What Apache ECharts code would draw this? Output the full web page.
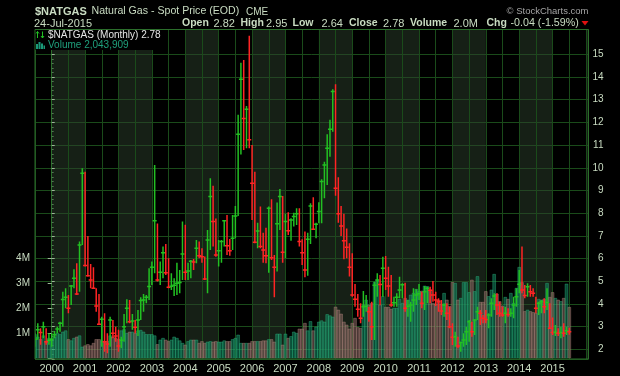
<!DOCTYPE html>
<html><head><meta charset="utf-8">
<script src="https://cdn.jsdelivr.net/npm/echarts@6/dist/echarts.min.js"></script>
<style>html,body{margin:0;padding:0;background:#000;}#c{width:620px;height:376px;}</style>
</head><body><div id="c"></div>
<script>
// first month of data: July 1999 (monthly bars through July 2015)
const firstYear = 1999, firstMonth = 7;
const highs = [
  2.71,3.15,2.93,3.22,2.93,2.71,
  2.71,2.81,3.00,3.22,4.54,4.69,4.40,4.84,5.53,5.79,6.75,9.98,
  9.83,7.00,5.76,5.62,4.69,4.44,3.44,3.59,2.71,3.44,3.30,3.00,
  2.86,2.56,3.56,4.21,4.18,3.56,3.30,3.74,4.30,4.44,4.40,5.57,
  5.87,10.12,7.55,5.87,6.53,6.64,6.01,5.35,5.13,5.82,5.50,7.63,
  7.49,5.82,5.94,5.98,6.82,6.75,6.45,6.09,7.26,9.54,9.21,7.76,
  6.82,6.82,7.70,7.92,6.86,7.92,8.32,12.33,14.63,14.75,12.72,15.82,
  11.00,9.83,7.58,8.29,7.14,7.36,8.29,8.61,6.16,8.47,9.07,8.76,
  7.97,8.04,7.78,8.02,8.22,8.22,6.85,7.19,7.14,8.44,8.70,7.58,
  8.48,9.49,10.27,11.48,12.11,13.46,13.68,9.58,8.32,7.97,7.33,6.67,
  6.23,4.88,4.44,4.03,4.57,4.40,3.88,4.10,4.98,5.35,5.28,6.08,
  6.11,5.64,5.28,4.32,4.47,5.20,4.91,4.94,4.18,4.10,4.69,4.65,
  4.88,4.54,4.79,4.76,4.76,5.01,4.54,4.25,4.18,4.03,4.03,3.88,
  3.15,2.78,2.56,2.34,2.71,3.00,3.29,3.22,3.32,3.88,3.73,3.51,
  3.73,3.59,4.25,4.47,4.47,4.10,3.88,3.88,3.81,3.81,4.32,4.69,
  5.50,6.53,4.84,4.91,4.84,4.69,4.32,4.10,4.18,4.25,4.69,4.03,
  3.40,3.07,2.93,3.00,3.15,3.00,2.95
];
const lows = [
  2.12,2.42,2.20,2.49,2.20,2.20,
  2.12,2.49,2.71,2.78,3.00,3.81,3.59,3.96,4.69,4.40,4.54,6.60,
  5.65,5.21,4.69,4.69,3.66,3.08,2.12,1.90,1.83,2.12,2.49,2.34,
  1.90,2.05,2.34,3.15,3.15,2.86,2.71,2.59,3.30,3.66,4.03,4.18,
  4.84,5.35,4.99,4.84,5.13,5.28,4.69,4.62,4.35,4.40,4.47,5.06,
  5.06,5.06,5.13,5.50,5.79,6.01,5.82,5.06,4.47,6.38,6.53,6.08,
  5.65,5.82,6.53,6.16,6.12,6.38,6.89,7.88,10.58,10.78,10.86,10.86,
  7.70,6.67,6.45,6.45,5.82,5.79,5.38,5.94,4.30,5.43,7.26,5.82,
  6.01,7.04,6.79,7.41,7.48,6.53,5.72,5.18,5.24,6.64,7.26,6.89,
  7.56,7.56,8.66,9.24,10.49,11.59,8.77,7.58,7.00,5.97,6.01,5.21,
  4.32,3.88,3.44,3.15,3.44,3.66,3.22,2.41,2.41,4.32,3.96,4.32,
  4.62,4.32,3.88,3.88,3.88,4.25,4.25,3.66,3.44,3.22,3.66,3.96,
  4.18,3.81,3.73,4.03,4.03,4.10,3.91,3.66,3.51,3.44,3.29,2.93,
  2.19,2.12,2.05,1.90,2.12,2.19,2.34,2.56,2.63,3.29,3.07,3.15,
  3.15,2.93,3.44,3.73,3.51,3.44,3.44,3.15,3.44,3.44,3.37,3.88,
  4.47,4.47,4.25,4.32,4.32,4.32,3.59,3.51,3.59,3.59,3.73,2.93,
  2.63,2.59,2.59,2.49,2.56,2.63,2.64
];
const closes = [
  2.45,2.86,2.74,3.00,2.34,2.40,
  2.45,2.65,2.90,3.15,4.20,4.30,3.81,4.79,5.13,4.44,6.60,9.76,
  5.69,5.24,5.06,4.69,3.91,3.11,3.33,2.34,2.24,3.30,2.71,2.59,
  2.15,2.40,3.00,3.81,3.22,3.25,2.97,3.30,4.15,4.18,4.30,4.77,
  5.62,7.67,5.06,5.40,6.26,5.38,4.74,4.78,4.82,4.91,4.95,6.20,
  5.40,5.45,5.88,5.85,6.45,6.12,6.08,5.10,6.82,8.73,7.63,6.16,
  6.35,6.75,7.67,6.57,6.35,6.89,7.88,11.48,13.90,12.17,12.58,11.23,
  9.32,6.72,7.22,6.53,6.38,6.12,8.22,6.04,5.62,7.53,8.73,6.28,
  7.63,7.23,7.70,7.85,7.97,6.75,6.26,5.50,6.85,8.32,7.29,7.51,
  8.07,9.39,10.12,10.86,11.70,13.36,9.10,7.97,7.44,6.78,6.50,5.62,
  4.40,4.21,3.77,3.37,3.88,3.90,3.66,3.00,4.83,5.06,4.86,5.57,
  5.13,4.79,3.95,4.05,4.30,4.62,4.85,3.81,3.90,3.95,4.18,4.40,
  4.45,4.03,4.54,4.69,4.60,4.40,4.18,4.10,3.69,3.96,3.59,3.00,
  2.53,2.56,2.15,2.30,2.41,2.78,3.22,2.78,3.29,3.66,3.59,3.37,
  3.32,3.51,4.03,4.35,3.96,3.59,3.51,3.59,3.54,3.59,3.96,4.32,
  4.87,4.62,4.37,4.76,4.54,4.47,3.81,4.03,4.10,3.88,4.07,2.93,
  2.74,2.76,2.71,2.74,2.71,2.82,2.78
];
// monthly volume, millions
const volumes = [
  0.95,0.85,0.75,0.90,0.65,0.80,
  0.73,0.85,1.00,0.95,1.05,1.10,0.75,0.70,0.80,0.85,0.90,0.45,
  0.50,0.55,0.50,0.60,0.75,0.75,0.70,0.65,0.68,0.90,0.85,0.80,
  0.75,1.10,1.15,1.00,1.05,1.05,1.00,1.10,1.12,1.05,0.95,0.95,
  0.95,0.90,0.55,0.73,0.80,0.73,0.67,0.73,0.85,0.80,0.70,0.60,
  0.53,0.67,0.73,0.73,0.73,0.60,0.67,0.60,0.65,0.67,0.65,0.67,
  0.65,0.65,0.70,0.67,0.67,0.75,0.80,0.93,0.60,0.60,0.60,0.60,
  0.67,0.67,0.67,0.67,0.70,0.70,0.75,0.75,0.65,0.97,0.97,0.53,
  0.97,0.80,0.87,1.05,1.00,1.17,1.17,1.40,1.10,1.47,1.10,1.25,
  1.45,1.50,1.45,1.75,1.70,1.65,2.05,1.93,1.77,1.45,1.33,1.17,
  1.40,1.60,1.23,1.20,2.13,2.33,2.13,2.20,3.03,3.13,2.13,2.47,
  2.04,2.04,1.96,2.00,2.00,2.36,2.20,2.40,2.33,2.53,2.60,2.76,
  2.67,2.69,2.89,2.87,2.73,2.20,2.17,2.33,2.17,2.60,2.33,2.07,
  3.04,3.00,2.33,2.40,3.03,3.03,2.63,3.13,2.67,3.27,2.24,2.24,
  2.67,2.47,2.73,3.36,2.57,2.27,2.09,2.44,2.36,2.60,2.20,2.80,
  3.64,3.03,1.87,1.93,1.87,1.83,1.80,2.36,2.33,2.36,3.00,2.44,
  2.63,2.40,2.33,2.27,2.40,2.97,2.04
];
const yearLabels = ['2000','2001','2002','2003','2004','2005','2006','2007','2008','2009','2010','2011','2012','2013','2014','2015'];
const priceTicks = [2,3,4,5,6,7,8,9,10,11,12,13,14,15];
const volumeTicks = ['1M','2M','3M','4M'];

// month index relative to Jan 2000
const baseOffset = (firstYear - 2000) * 12 + (firstMonth - 1);
const priceData = [], volData = [];
for (let i = 0; i < closes.length; i++) {
  const m = baseOffset + i;
  const up = i === 0 ? 1 : (closes[i] > closes[i - 1] ? 1 : 0);
  priceData.push([m, highs[i], lows[i], closes[i], up]);
  volData.push([m, volumes[i], up]);
}

const UP = '#22c022', DOWN = '#ff2424';
const GRIDC = '#1a4b1a', BORDER = '#2b6e2b', PALE = '#c9dcc2';
const FONT = '"Liberation Sans", Arial, sans-serif';
// horizontal grid colours: ticks run 1.577, 2, 3, ... 16, 16.09 - the 16 line is left out
const hLineColors = [];
for (let k = 0; k < 17; k++) hLineColors.push(k === 15 ? 'rgba(0,0,0,0)' : GRIDC);

const chart = echarts.init(document.getElementById('c'), null, {renderer: 'canvas', width: 620, height: 376});

function txt(text, x, y, size, color, weight, align) {
  return {type: 'text', silent: true, z: 100, style: {text: text, x: x, y: y, fill: color,
    font: (weight || 'normal') + ' ' + size + 'px ' + FONT, textAlign: align || 'left', textVerticalAlign: 'middle'}};
}

const graphics = [
  {type: 'rect', silent: true, z: 50, shape: {x: 35.5, y: 30, width: 130, height: 20}, style: {fill: '#000'}},
  txt('$NATGAS', 35, 11.5, 11, PALE, 'bold'),
  txt('Natural Gas - Spot Price (EOD)', 91.5, 11.5, 10.6, PALE),
  txt('CME', 246, 12, 10, PALE),
  txt('24-Jul-2015', 34, 23.5, 11, PALE),
  txt('Open', 182, 23.5, 10.5, PALE, 'bold'), txt('2.82', 213.5, 23.5, 11, PALE),
  txt('High', 240.5, 23.5, 10.5, PALE, 'bold'), txt('2.95', 266, 23.5, 11, PALE),
  txt('Low', 292.5, 23.5, 10.5, PALE, 'bold'), txt('2.64', 321.5, 23.5, 11, PALE),
  txt('Close', 349, 23.5, 10.5, PALE, 'bold'), txt('2.78', 383, 23.5, 11, PALE),
  txt('Volume', 410, 23.5, 10.5, PALE, 'bold'), txt('2.0M', 453.5, 23.5, 11, PALE),
  txt('Chg', 486.5, 23.5, 10.5, PALE, 'bold'), txt('-0.04 (-1.59%)', 510.5, 23.5, 10.7, PALE),
  {type: 'polygon', silent: true, z: 100, shape: {points: [[581.5, 21], [588.5, 21], [585, 25.5]]}, style: {fill: '#e01010'}},
  txt('\u00a9 StockCharts.com', 588.5, 11.5, 9.5, '#a4a4a4', 'normal', 'right'),
  txt('$NATGAS (Monthly) 2.78', 48, 35, 10, '#e6e6e6'),
  txt('Volume 2,043,909', 48, 45.5, 10, '#1fa07c'),
  {type: 'polyline', silent: true, z: 100, shape: {points: [[37.5, 38], [37.5, 31.5]]}, style: {stroke: UP, lineWidth: 1, fill: null}},
  {type: 'polyline', silent: true, z: 100, shape: {points: [[36, 33.5], [37.5, 31.5], [39, 33.5]]}, style: {stroke: UP, lineWidth: 1, fill: null}},
  {type: 'polyline', silent: true, z: 100, shape: {points: [[42.5, 31.5], [42.5, 38]]}, style: {stroke: UP, lineWidth: 1, fill: null}},
  {type: 'polyline', silent: true, z: 100, shape: {points: [[41, 36], [42.5, 38], [44, 36]]}, style: {stroke: UP, lineWidth: 1, fill: null}},
  {type: 'rect', silent: true, z: 100, shape: {x: 36, y: 44, width: 2, height: 5}, style: {fill: '#1a9a78'}},
  {type: 'rect', silent: true, z: 100, shape: {x: 38.5, y: 42, width: 2, height: 7}, style: {fill: '#1a9a78'}},
  {type: 'rect', silent: true, z: 100, shape: {x: 41, y: 43.5, width: 2, height: 5.5}, style: {fill: '#1a9a78'}},
  {type: 'rect', silent: true, z: 100, shape: {x: 43.5, y: 45.5, width: 1.5, height: 3.5}, style: {fill: '#1a9a78'}},
  // plot frame
  {type: 'rect', silent: true, z: 40, shape: {x: 35, y: 29.5, width: 553.5, height: 329.5}, style: {fill: null, stroke: BORDER, lineWidth: 1}}
];

const SHADE = 'rgba(44,64,44,0.5)';
const option = {
  backgroundColor: '#000',
  animation: false,
  textStyle: {fontFamily: FONT},
  grid: [
    {left: 35, right: 31.5, top: 29.5, bottom: 17, show: false},
    {left: 35, right: 31.5, top: 258.3, bottom: 17.7, show: false}
  ],
  xAxis: [
    {type: 'value', gridIndex: 0, min: -6, max: 192.9, interval: 6,
      axisLine: {show: false}, axisTick: {show: false},
      splitLine: {show: true, lineStyle: {color: GRIDC, width: 1, opacity: 1}},
      splitArea: {show: true, areaStyle: {color: ['rgba(0,0,0,0)', SHADE, SHADE, 'rgba(0,0,0,0)']}},
      axisLabel: {color: PALE, fontSize: 11, margin: 4, fontFamily: FONT,
        formatter: function (v) { if (v >= 0 && v % 12 === 0) { const k = v / 12; return yearLabels[k] || ''; } return ''; }}},
    {type: 'value', gridIndex: 1, min: -6, max: 192.9, interval: 6, show: false}
  ],
  yAxis: [
    {type: 'value', gridIndex: 0, position: 'right', min: 1.577, max: 16.09, splitNumber: 14, minInterval: 1, maxInterval: 1,
      axisLine: {show: true, lineStyle: {color: BORDER}},
      axisTick: {show: true, length: 3, lineStyle: {color: '#9fb89a'}},
      minorTick: {show: true, splitNumber: 5, length: 2, lineStyle: {color: '#4f7a4f'}},
      splitLine: {show: true, lineStyle: {color: hLineColors, width: 1, opacity: 1}},
      axisLabel: {color: PALE, fontSize: 10, margin: 15, align: 'right', fontFamily: FONT,
        formatter: function (v) { return priceTicks.indexOf(v) >= 0 ? String(v) : ''; }}},
    {type: 'value', gridIndex: 1, position: 'left', min: 0, max: 4, interval: 1,
      axisLine: {show: false},
      axisTick: {show: true, length: 4, lineStyle: {color: '#9fb89a'}},
      splitLine: {show: false},
      axisLabel: {color: PALE, fontSize: 10, margin: 5, fontFamily: FONT,
        formatter: function (v) { return v >= 1 ? volumeTicks[v - 1] : ''; }}}
  ],
  series: [
    {type: 'custom', name: 'Volume', xAxisIndex: 1, yAxisIndex: 1, z: 1, clip: true,
      data: volData, encode: {x: 0, y: 1},
      renderItem: function (params, api) {
        const x = api.value(0), v = api.value(1), up = api.value(2);
        const p0 = api.coord([x - 0.5, v]);
        const p1 = api.coord([x + 0.5, 0]);
        return {type: 'rect', shape: {x: p0[0], y: p0[1], width: p1[0] - p0[0], height: p1[1] - p0[1]},
          style: {fill: up ? 'rgba(18,150,105,0.5)' : 'rgba(150,112,106,0.5)',
                  stroke: up ? 'rgba(45,175,125,0.7)' : 'rgba(170,130,122,0.7)', lineWidth: 0.6}};
      }},
    {type: 'custom', name: 'Price', xAxisIndex: 0, yAxisIndex: 0, z: 3, clip: true,
      data: priceData, encode: {x: 0, y: [1, 2, 3]},
      renderItem: function (params, api) {
        const x = api.value(0);
        const pH = api.coord([x, api.value(1)]);
        const pL = api.coord([x, api.value(2)]);
        const pC = api.coord([x, api.value(3)]);
        const col = api.value(4) ? UP : DOWN;
        return {type: 'group', children: [
          {type: 'line', shape: {x1: pH[0], y1: pH[1], x2: pL[0], y2: pL[1]}, style: {stroke: col, lineWidth: 1.5}},
          {type: 'line', shape: {x1: pC[0] - 2, y1: pC[1], x2: pC[0] + 2, y2: pC[1]}, style: {stroke: col, lineWidth: 1.5}}
        ]};
      }}
  ],
  graphic: graphics
};
chart.setOption(option);
</script></body></html>
